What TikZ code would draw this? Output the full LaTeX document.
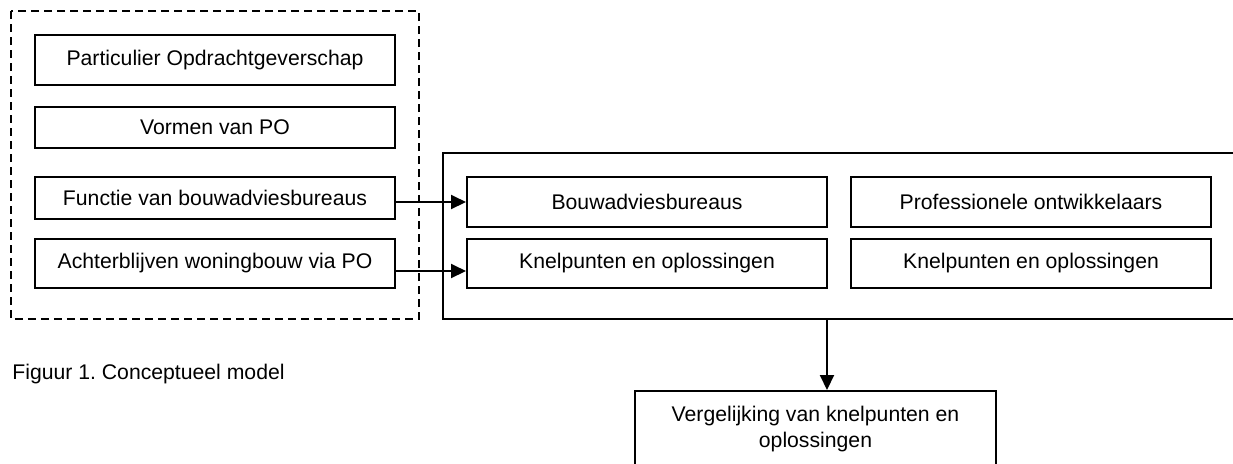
\documentclass[tikz,border=0pt]{standalone}
\usepackage{fontspec}
\setmainfont{Liberation Sans}
\usetikzlibrary{positioning}
\usetikzlibrary{arrows.meta,calc}
\frenchspacing

\begin{document}
\begin{tikzpicture} [
  x = 0.5pt, y = -0.5pt,
  every node/.style = {font = \fontsize{10.6}{13}\selectfont},
  vak/.style = {rectangle, draw = black, line width = 1pt, minimum width = 180pt, inner sep = 0pt},
  pijl/.style = {draw, line width = 1pt, -{Triangle[length = 7.5pt, width = 7pt]}},
]

 \useasboundingbox (0,0) rectangle (1233,463);

 % linker kader
 \draw [line width = 1pt, dash pattern = on 4pt off 2.5pt] (11,11) rectangle (419,319);

 \node [vak, minimum height = 25pt] (po) at (215,60) {Particulier Opdrachtgeverschap};
 \node [vak, minimum height = 20.5pt] (vormen) at (215,127.5) {Vormen van PO};
 \node [vak, minimum height = 21pt] (functie) at (215,198) {Functie van bouwadviesbureaus};
 \node [vak, minimum height = 24.5pt] (achter) at (215,263.5) {Achterblijven woningbouw via PO};

 % rechter kader
 \draw [line width = 1pt] (1240,153) -- (443,153) -- (443,319) -- (1240,319);
 \coordinate (kaderzuid) at (827,319);

 \node [vak, minimum height = 25pt] (bouw) at (647,202) {Bouwadviesbureaus};
 \node [vak, minimum height = 24.5pt] (kbouw) at (647,263.5) {Knelpunten en oplossingen};
 \node [vak, minimum height = 25pt] (prof) at (1031,202) {Professionele ontwikkelaars};
 \node [vak, minimum height = 24.5pt] (kprof) at (1031,263.5) {Knelpunten en oplossingen};

 \node [vak, minimum width = 180.5pt, minimum height = 38pt, align = center] (verg) at (815.5,429)
   {Vergelijking van knelpunten en\\oplossingen};

 \node [anchor = base west, inner sep = 0pt] (titel) at (12,379) {Figuur 1. Conceptueel model};

 \begin{scope}[every path/.style=pijl]
\path (functie.east |- bouw.west) -- (bouw.west) ;
\path ([yshift = -3.75pt]achter.east) -- ([yshift = -3.75pt]kbouw.west) ;
\path (kaderzuid) -- (kaderzuid |- verg.north) ;
\end{scope}

\end{tikzpicture}
\end{document}
